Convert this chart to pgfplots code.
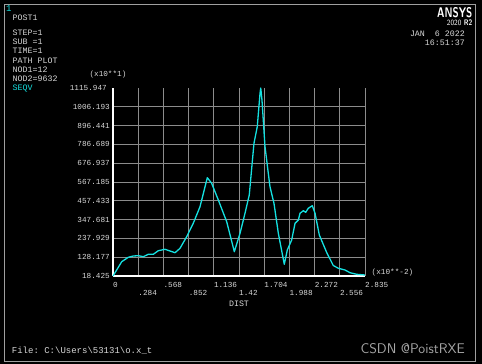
\documentclass[border=0pt]{standalone}
\usepackage{fontspec}
\setmainfont{Liberation Sans}
\setmonofont{Liberation Mono}
\usepackage{pgfplots}
\pgfplotsset{compat=1.18}
\definecolor{cyanline}{RGB}{20,225,225}
\definecolor{gridgray}{RGB}{140,140,140}
\definecolor{txt}{RGB}{215,215,215}
\newcommand\mf{\ttfamily\fontsize{8.3}{9}\selectfont}
\newcommand\tf{\ttfamily\fontsize{7.7}{8}\selectfont}
\begin{document}
\begin{tikzpicture}[x=1pt,y=1pt]
\fill[black] (0,0) rectangle (482,364);
\path[use as bounding box] (0,0) rectangle (482,364);
\draw[gray!75, line width=0.8pt] (4,2.3) rectangle (475.5,360);
% left info block
\node[anchor=base west, inner sep=0pt, text=cyanline, font=\ttfamily\fontsize{9}{9}\selectfont] at (6,352) {1};
\begin{scope}[every node/.style={anchor=base west, inner sep=0pt, text=txt, font=\mf}]
\node at (12.5,343) {POST1};
\node at (12.5,328.6) {STEP=1};
\node at (12.5,319.6) {SUB\ =1};
\node at (12.5,310.6) {TIME=1};
\node at (12.5,300.6) {PATH PLOT};
\node at (12.5,291.3) {NOD1=12};
\node at (12.5,282) {NOD2=9632};
\node[text=cyanline] at (12.5,273) {SEQV};
\node[anchor=base east] at (465,327) {JAN\ \ 6 2022};
\node[anchor=base east] at (465,318) {16:51:37};
\node[font=\ttfamily\fontsize{9}{9}\selectfont] at (11.7,10.3) {File: C:\textbackslash Users\textbackslash 53131\textbackslash o.x\_t};
\end{scope}
\node[anchor=base east, inner sep=0pt, text=white, font=\sffamily\bfseries\fontsize{14}{14}\selectfont] at (472.5,346.3) {\scalebox{0.72}[1]{ANSYS}};
\node[anchor=base east, inner sep=0pt, text=white, font=\sffamily\fontsize{8}{8}\selectfont] at (472.5,338.7) {\scalebox{0.85}[1]{2020 \textbf{R2}}};
\node[anchor=base east, inner sep=0pt, text=gray!70, font=\sffamily\fontsize{14}{14}\selectfont] at (465,10.7) {CSDN @PoistRXE};
% axis annotations
\node[inner sep=0pt, text=txt, font=\tf] at (108,289) {(x10**1)};
\node[anchor=west, inner sep=0pt, text=txt, font=\tf] at (371.5,91.7) {(x10**-2)};
\node[inner sep=0pt, text=txt, font=\mf] at (239,60.7) {DIST};
\begin{axis}[
  at={(113pt,88pt)}, anchor=south west,
  scale only axis, width=252pt, height=188pt,
  xmin=0, xmax=2.835, ymin=18.425, ymax=1115.947,
  axis x line=bottom, axis y line=left,
  axis line style={-, white, line width=1.6pt},
  major tick length=0pt,
  grid=major,
  major grid style={gridgray, line width=0.7pt},
  xtick={0,0.2835,0.567,0.8505,1.134,1.4175,1.701,1.9845,2.268,2.5515,2.835},
  xticklabels={0,\raisebox{-8.3pt}{.284},.568,\raisebox{-8.3pt}{.852},1.136,\raisebox{-8.3pt}{1.42},1.704,\raisebox{-8.3pt}{1.988},2.272,\raisebox{-8.3pt}{2.556},2.835},
  ytick={18.425,128.177,237.929,347.681,457.433,567.185,676.937,786.689,896.441,1006.193},
  yticklabels={18.425,128.177,237.929,347.681,457.433,567.185,676.937,786.689,896.441,1006.193},
  extra y ticks={1115.947},
  extra y tick labels={1115.947},
  extra y tick style={grid=none, major tick length=0pt, yticklabel style={anchor=east, inner sep=0pt, xshift=-3pt, text=txt, font=\tf}},
  xticklabel style={anchor=base west, inner sep=0pt, yshift=-11.5pt, text=txt, font=\tf},
  yticklabel style={anchor=east, inner sep=0pt, xshift=-3pt, text=txt, font=\tf},
  clip=false,
]
\addplot[cyanline, line width=1.3pt, line join=round] coordinates {
(0,18.4) (0.098,101.9) (0.172,127.6) (0.228,135.2) (0.285,136.9) (0.341,131.1)
(0.397,145.1) (0.453,145.1) (0.510,166.1) (0.585,174.3) (0.641,164.4) (0.698,154.4)
(0.754,180.1) (0.829,247.9) (0.903,326.1) (0.979,423.0) (1.061,592.3) (1.110,559.6)
(1.185,462.1) (1.279,335.4) (1.365,160.3) (1.429,267.7) (1.485,384.5) (1.533,491.3)
(1.586,793.1) (1.623,890.0) (1.654,1085.0) (1.662,1115.9) (1.676,1045.9) (1.710,773.3)
(1.766,539.7) (1.811,442.8) (1.860,267.7) (1.927,86.7) (1.961,170.2) (2.010,228.6)
(2.048,326.1) (2.085,345.3) (2.104,384.5) (2.141,399.6) (2.168,390.3) (2.197,413.7)
(2.242,428.8) (2.273,384.5) (2.321,257.8) (2.404,155.6) (2.478,79.7) (2.535,63.4)
(2.610,53.5) (2.666,37.7) (2.742,28.3) (2.835,24.3)
};
\end{axis}
\end{tikzpicture}
\end{document}
